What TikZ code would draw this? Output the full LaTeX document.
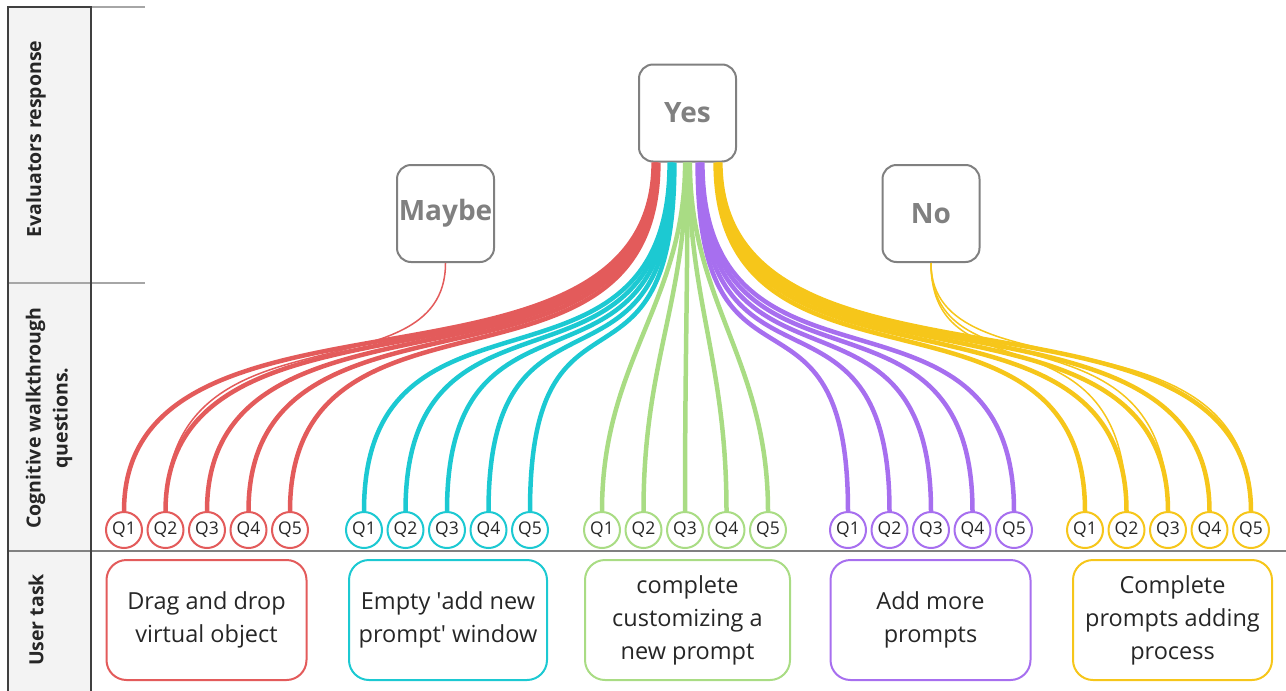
\documentclass[tikz,border=0pt]{standalone}
\usepackage{fontspec}
\setmainfont{Open Sans}
\definecolor{qred}{HTML}{E35B5B}
\definecolor{qcyan}{HTML}{1CC9D2}
\definecolor{qgreen}{HTML}{A9DC84}
\definecolor{qpurple}{HTML}{A76FEF}
\definecolor{qyellow}{HTML}{F6C61A}
\definecolor{framegray}{HTML}{808080}
\definecolor{ink}{HTML}{262626}
\definecolor{colfill}{HTML}{F3F3F3}

\tikzset{
  answer/.style={draw=framegray, line width=2pt, rounded corners=14pt,
    minimum width=97pt, minimum height=97pt, inner sep=0pt,
    text=framegray, font=\fontsize{28}{30}\selectfont\bfseries},
  qcirc/.style={circle, draw=#1, line width=2pt, fill=white,
    minimum size=36pt, inner sep=0pt, text=ink, font=\fontsize{17.5}{17.5}\selectfont},
  task/.style={draw=#1, line width=2pt, rounded corners=20pt,
    minimum width=200pt, minimum height=120pt, align=center,
    text=ink, font=\fontsize{23.5}{33}\selectfont},
  bundle/.style={draw=#1, line width=4.5pt},
  thread/.style={draw=#1, line width=1.5pt},
  rowlabel/.style={rotate=90, align=center, text=ink,
    font=\fontsize{19.5}{27}\selectfont\bfseries}
}

\begin{document}
\begin{tikzpicture}[x=1pt,y=-1pt]
  \useasboundingbox (0,0) rectangle (1286,691);

  % table frame on the left
  \fill[colfill] (8,7) rectangle (91,691);
  \draw[framegray!70, line width=1.5pt] (91,7) -- (145,7);
  \draw[framegray!70, line width=1.5pt] (8,283) -- (145,283);
  \draw[framegray, line width=2pt] (8,551) -- (1286,551);
  \draw[black!75, line width=2pt] (8,691) -- (8,7) -- (91,7) -- (91,691);

  \node[rowlabel] (lbleval) at (36,139) {Evaluators response};
  \node[rowlabel] (lblcog) at (49,418) {Cognitive walkthrough\\questions.};
  \node[rowlabel] (lbltask) at (36,620) {User task};

  % evaluators response
  \node[answer] (yes) at (687.5,113) {Yes};
  \node[answer] (maybe) at (445.5,213.5) {Maybe};
  \node[answer] (no) at (931,213.5) {No};

  % questions
  \foreach \n/\c/\x in {r/qred/124, c/qcyan/364, g/qgreen/602, p/qpurple/848, y/qyellow/1085}
    \foreach \i in {1,...,5}
      \node[qcirc=\c] (\n\i) at (\x+41.5*\i-41.5,530) {Q\i};

  % user tasks
  \node[task=qred] (t1) at (206.5,620) {Drag and drop\\virtual object};
  \node[task=qcyan, minimum width=198pt] (t2) at (448,620) {Empty \textquotesingle add new\\prompt\textquotesingle\ window};
  \node[task=qgreen, minimum width=205pt] (t3) at (687.5,620) {complete\\customizing a\\new prompt};
  \node[task=qpurple] (t4) at (930.5,620) {Add more\\prompts};
  \node[task=qyellow, minimum width=199pt] (t5) at (1172.5,620) {Complete\\prompts adding\\process};

  % links from the answers to the questions
  \foreach \n/\c/\dx/\a/\b in {r/qred/-31.5/259/-252, c/qcyan/-15.5/259/-252, g/qgreen/0/140/-150,
                               p/qpurple/12.5/259/-252, y/qyellow/30.5/259/-252}
    \foreach \i in {1,...,5}
      \draw[bundle=\c] ([xshift={\dx+1.2*\i-3.6}]yes.south) .. controls +(0,\a) and +(0,\b) .. (\n\i.north);
  \draw[thread=qred] (maybe.south) .. controls +(0,138) and +(0,-212) .. (r2.north);
  \foreach \i in {2,3,5}
    \draw[thread=qyellow] (no.south) .. controls +(0,138) and +(0,-212) .. (y\i.north);
\end{tikzpicture}
\end{document}
